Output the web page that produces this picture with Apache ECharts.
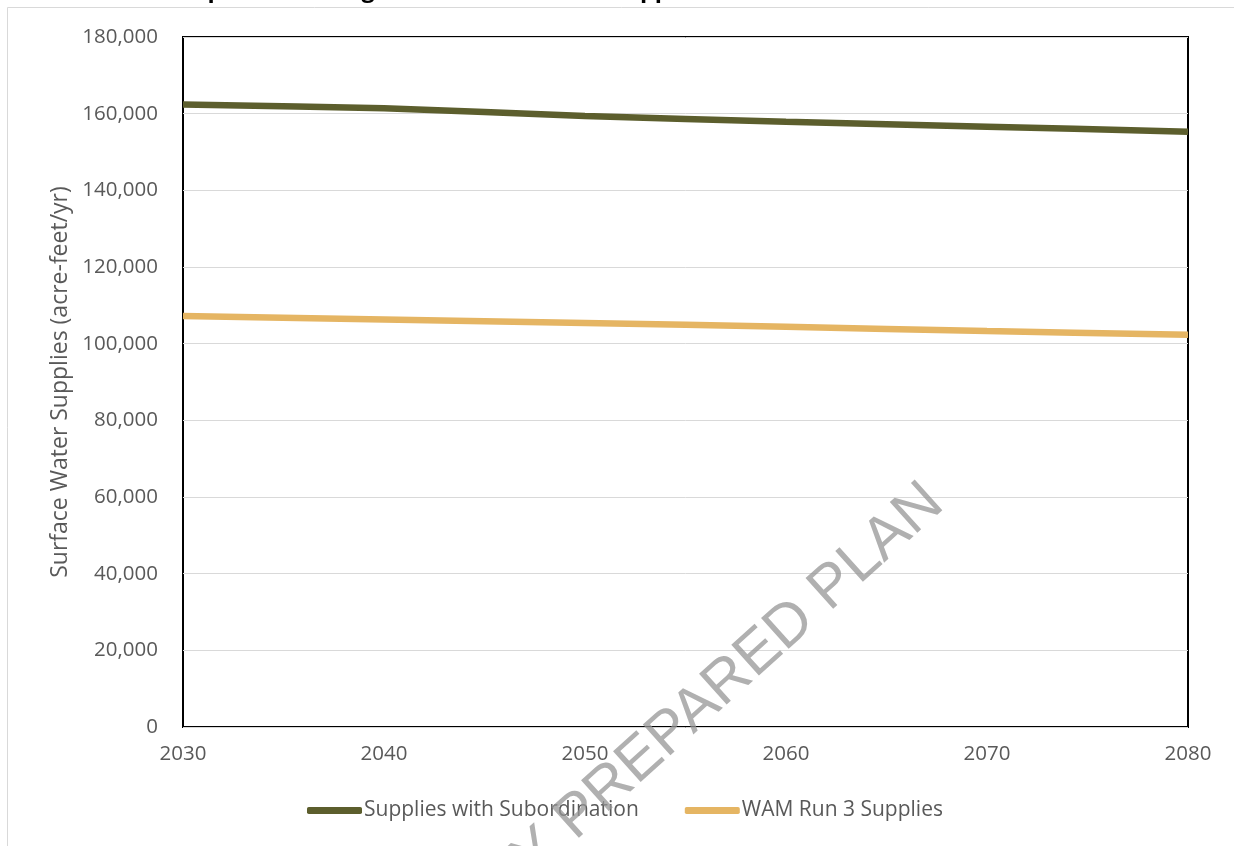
<!DOCTYPE html>
<html>
<head>
<meta charset="utf-8">
<script src="https://cdn.jsdelivr.net/npm/echarts@6/dist/echarts.min.js"></script>
<style>
  html, body { margin: 0; padding: 0; background: #fff; }
  #chart { width: 1234px; height: 846px; }
</style>
</head>
<body>
<div id="chart"></div>
<script>
// Planning decades
const years = [2030, 2040, 2050, 2060, 2070, 2080];
// Surface water supplies, acre-feet per year
const subordinationSupplies = [162400, 161400, 159400, 157900, 156600, 155300];
const wamRun3Supplies = [107200, 106300, 105400, 104400, 103300, 102300];
const seriesNames = ['Supplies with Subordination', 'WAM Run 3 Supplies'];
const seriesColors = ['#5c5e2d', '#e5b563'];
const yAxisTitle = 'Surface Water Supplies (acre-feet/yr)';
const titleText = 'Comparison of Regional Surface Water Supplies';
const watermarkText = 'INITIALLY PREPARED PLAN';

const FONT = "'Open Sans', 'Noto Sans', sans-serif";
const chart = echarts.init(document.getElementById('chart'));

const pairs = (vals) => years.map((y, i) => [y, vals[i]]);

chart.setOption({
  backgroundColor: '#ffffff',
  animation: false,
  grid: {
    left: 183, right: 46, top: 37, bottom: 119,
    show: true, borderColor: '#000000', borderWidth: 2,
    containLabel: false
  },
  xAxis: {
    type: 'value', min: 2030, max: 2080, interval: 10,
    axisLine: { show: false },
    axisTick: { show: false },
    splitLine: { show: false },
    axisLabel: {
      color: '#595959', fontSize: 20.5, fontFamily: FONT, margin: 17,
      formatter: (v) => String(v)
    }
  },
  yAxis: {
    type: 'value', min: 0, max: 180000, interval: 20000,
    name: yAxisTitle, nameLocation: 'middle', nameGap: 110,
    nameTextStyle: { color: '#595959', fontSize: 23, fontFamily: FONT },
    axisLine: { show: false },
    axisTick: { show: false },
    splitLine: { lineStyle: { color: '#d9d9d9', width: 1 } },
    axisLabel: {
      color: '#595959', fontSize: 20.5, fontFamily: FONT, margin: 25,
      formatter: (v) => v.toLocaleString('en-US')
    }
  },
  legend: {
    bottom: 20, left: 302,
    icon: 'roundRect', itemWidth: 55, itemHeight: 7, itemGap: 46,
    textStyle: { color: '#595959', fontSize: 21, fontFamily: FONT, padding: [0, 0, 0, -3] },
    data: seriesNames
  },
  series: [
    {
      name: seriesNames[0], type: 'line', data: pairs(subordinationSupplies),
      showSymbol: false, smooth: 0.3,
      lineStyle: { color: seriesColors[0], width: 6.5 },
      itemStyle: { color: seriesColors[0] }, z: 3
    },
    {
      name: seriesNames[1], type: 'line', data: pairs(wamRun3Supplies),
      showSymbol: false, smooth: 0.3,
      lineStyle: { color: seriesColors[1], width: 6.5 },
      itemStyle: { color: seriesColors[1] }, z: 3
    }
  ],
  graphic: [
    {
      type: 'rect', silent: true, z: -1,
      shape: { x: 7.5, y: 7.5, width: 1240, height: 850 },
      style: { fill: 'none', stroke: '#d9d9d9', lineWidth: 1 }
    },
    {
      // chart heading, sitting mostly above the top edge of the page
      type: 'text', silent: true, x: 155, y: 2,
      style: { text: titleText, fill: '#000000', font: "bold 23.5px " + FONT, textAlign: 'left', textVerticalAlign: 'bottom' }
    },
    {
      type: 'text', silent: true, x: 955, y: 517, rotation: 42 * Math.PI / 180, z: 10,
      style: { text: watermarkText, fill: 'rgba(150,150,150,0.75)', font: "60px 'Liberation Sans', Arial, sans-serif", textAlign: 'right', textVerticalAlign: 'bottom' }
    }
  ]
});
</script>
</body>
</html>
